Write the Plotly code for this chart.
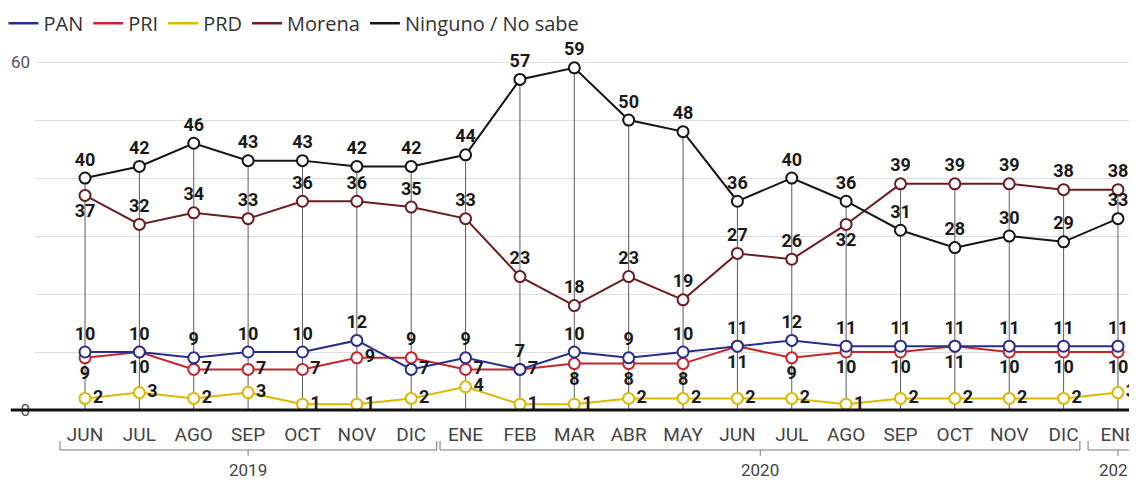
import plotly.graph_objects as go

months = ["JUN", "JUL", "AGO", "SEP", "OCT", "NOV", "DIC", "ENE", "FEB", "MAR",
          "ABR", "MAY", "JUN", "JUL", "AGO", "SEP", "OCT", "NOV", "DIC", "ENE"]
years = ["2019", "2020", "2021"]

pan = [10, 10, 9, 10, 10, 12, 7, 9, 7, 10, 9, 10, 11, 12, 11, 11, 11, 11, 11, 11]
pri = [9, 10, 7, 7, 7, 9, 9, 7, 7, 8, 8, 8, 11, 9, 10, 10, 11, 10, 10, 10]
prd = [2, 3, 2, 3, 1, 1, 2, 4, 1, 1, 2, 2, 2, 2, 1, 2, 2, 2, 2, 3]
morena = [37, 32, 34, 33, 36, 36, 35, 33, 23, 18, 23, 19, 27, 26, 32, 39, 39, 39, 38, 38]
ninguno = [40, 42, 46, 43, 43, 42, 42, 44, 57, 59, 50, 48, 36, 40, 36, 31, 28, 30, 29, 33]

names = ["PAN", "PRI", "PRD", "Morena", "Ninguno / No sabe"]
colors = ["#2a2d8c", "#c4262e", "#dcb800", "#6a1d22", "#151515"]

x = list(range(len(months)))

pos_pan = ["top center"] * 20
pos_pan[6] = "middle right"
pos_pri = ["bottom center"] * 20
for i in [2, 3, 4, 5, 7, 8]:
    pos_pri[i] = "middle right"
pos_pri[6] = "top center"
pos_prd = ["middle right"] * 20
pos_mor = ["top center"] * 20
pos_mor[0] = "bottom center"
pos_mor[14] = "bottom center"
pos_nin = ["top center"] * 20

FONT = "Roboto, sans-serif"
WIDE = "Open Sans, sans-serif"

fig = go.Figure()

# vertical drop lines
vx, vy = [], []
for i in x:
    top = max(ninguno[i], morena[i])
    vx += [i, i, None]
    vy += [0, top, None]
fig.add_trace(go.Scatter(x=vx, y=vy, mode="lines", line=dict(color="#5a5a5a", width=1),
                         showlegend=False, hoverinfo="skip"))

label_font = dict(family=FONT, size=18, color="#1a1a1a", weight="bold")

series = [(pan, pos_pan), (pri, pos_pri), (prd, pos_prd), (morena, pos_mor), (ninguno, pos_nin)]
order = [2, 1, 0, 3, 4]
for k in order:
    vals, pos = series[k]
    fig.add_trace(go.Scatter(
        x=x, y=vals, mode="lines+markers+text", text=[str(v) for v in vals],
        textposition=pos, textfont=label_font,
        line=dict(color=colors[k], width=2),
        marker=dict(size=11, color="white", line=dict(color=colors[k], width=2)),
        showlegend=False, name=names[k], cliponaxis=False))

for k in range(5):
    fig.add_trace(go.Scatter(x=[None], y=[None], mode="lines", name=names[k],
                             line=dict(color=colors[k], width=2.5)))

# brackets for years
shapes = []
groups = [(-0.46, 6.47, 3, years[0]), (6.53, 18.3, 12.42, years[1]), (18.45, 19.6, 19, years[2])]
bc = "#777777"
yb, yt, yd = -0.0933, -0.0693, -0.109
for x0, x1, xm, yr in groups:
    shapes.append(dict(type="line", xref="x", yref="paper", x0=x0, x1=x1, y0=yb, y1=yb,
                       line=dict(color=bc, width=1)))
    shapes.append(dict(type="line", xref="x", yref="paper", x0=x0, x1=x0, y0=yb, y1=yt,
                       line=dict(color=bc, width=1)))
    shapes.append(dict(type="line", xref="x", yref="paper", x0=x1, x1=x1, y0=yb, y1=yt,
                       line=dict(color=bc, width=1)))
    shapes.append(dict(type="line", xref="x", yref="paper", x0=xm, x1=xm, y0=yb, y1=yd,
                       line=dict(color=bc, width=1)))
# baseline extending left
shapes.append(dict(type="line", xref="paper", yref="y", x0=-0.022, x1=1, y0=0, y1=0,
                   line=dict(color="#111111", width=3)))

annotations = []
for x0, x1, xm, yr in groups:
    annotations.append(dict(x=xm, y=-0.1467, xref="x", yref="paper", text=yr, showarrow=False,
                            yanchor="middle", font=dict(family=FONT, size=17, color="#444444")))

fig.update_layout(
    width=1129, height=474,
    margin=dict(l=27, r=0, t=32, b=67, autoexpand=False),
    paper_bgcolor="white", plot_bgcolor="white",
    shapes=shapes, annotations=annotations,
    legend=dict(orientation="h", x=-0.0286, y=1.045, xanchor="left", yanchor="middle",
                font=dict(family=WIDE, size=20, color="#333333"),
                bgcolor="rgba(0,0,0,0)", itemwidth=30, tracegroupgap=0),
    xaxis=dict(range=[-0.92, 19.35], tickvals=x, ticktext=months, showgrid=False, zeroline=False,
               showline=False, ticks="", ticklabelstandoff=6,
               tickfont=dict(family=FONT, size=19, color="#444444")),
    yaxis=dict(range=[-0.86, 63.8], tickvals=[0, 10, 20, 30, 40, 50, 60],
               ticktext=["0", "", "", "", "", "", "60"], showgrid=True, gridcolor="#dddddd",
               gridwidth=1, zeroline=False, showline=False, ticks="", ticklabelstandoff=4,
               tickfont=dict(family=FONT, size=17, color="#555555")),
)

fig.write_html("out.html")
